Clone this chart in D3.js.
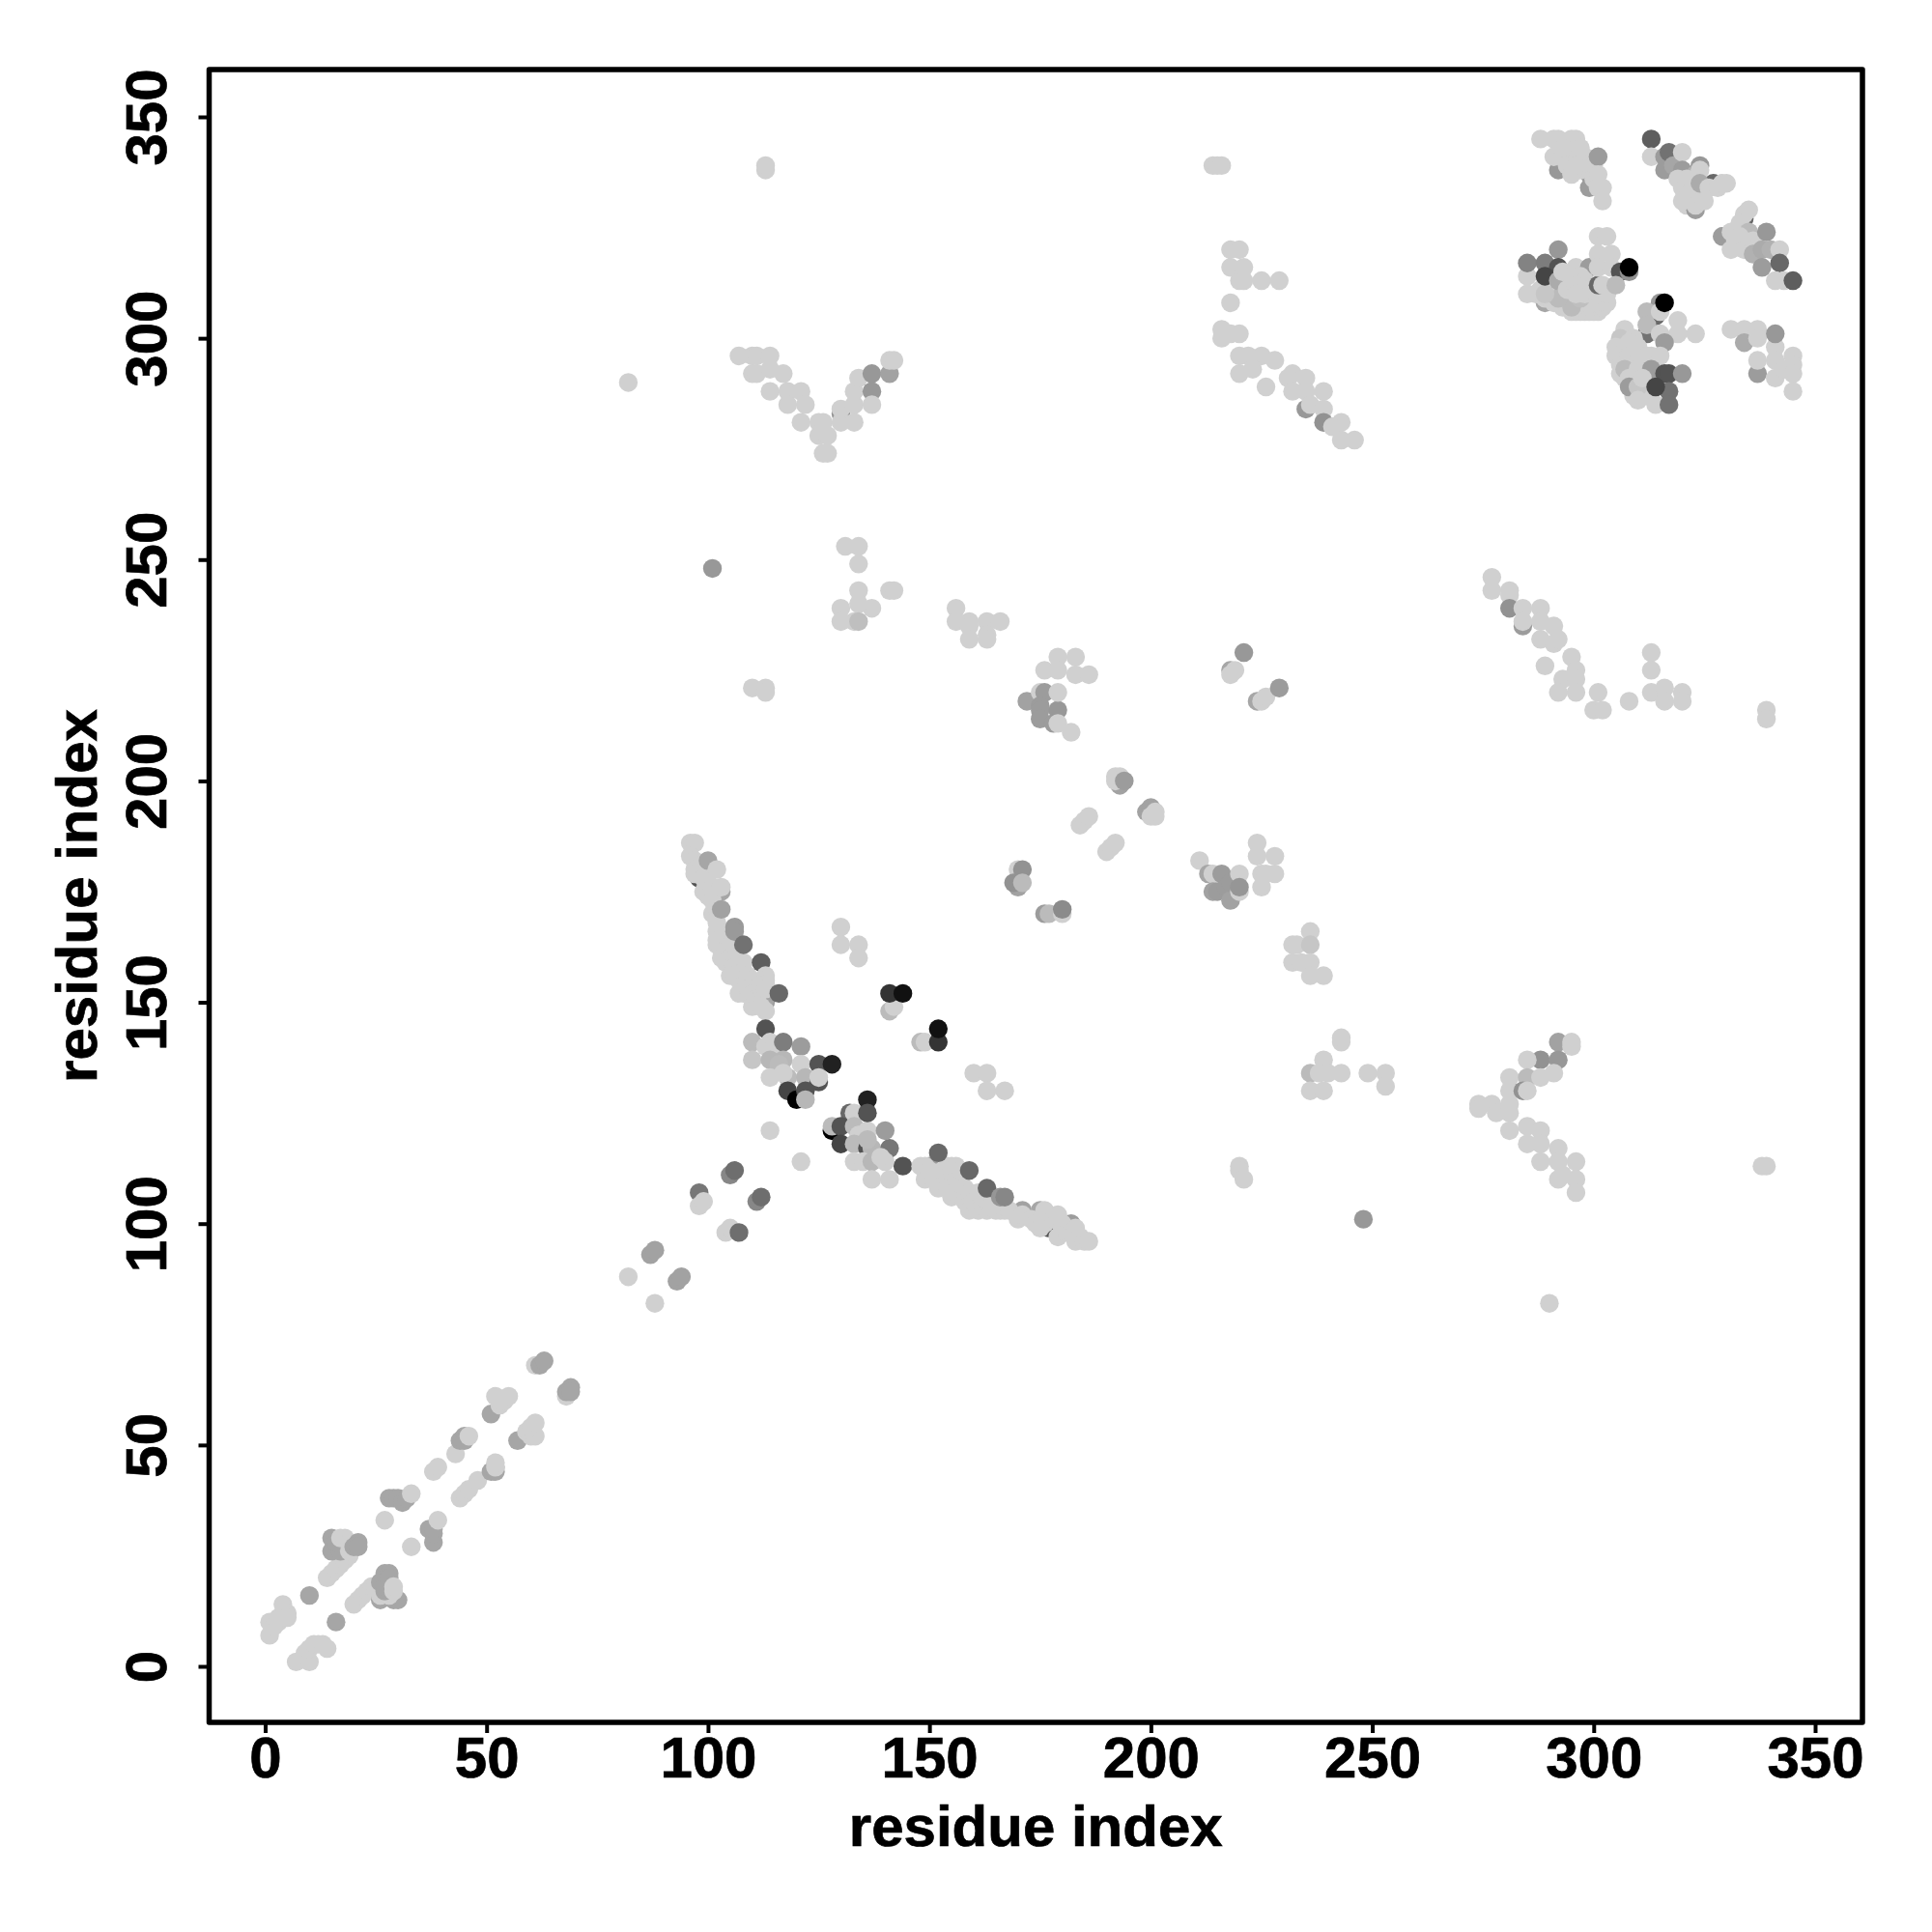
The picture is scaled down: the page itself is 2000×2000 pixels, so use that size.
<!DOCTYPE html>
<html>
<head>
<meta charset="utf-8">
<script src="https://cdn.jsdelivr.net/npm/d3@7/dist/d3.min.js"></script>
<style>
html,body{margin:0;padding:0;background:#fff;}
svg{display:block;}
text{font-family:"Liberation Sans",Arial,sans-serif;font-weight:bold;fill:#000;stroke:#000;stroke-width:0.7px;}
</style>
</head>
<body>
<svg id="chart" width="2000" height="2000"></svg>
<script>
// Each contact: [residue x, residue y, strength read from the shade]. A missing strength means 0.
const diagonalLow = [
[1,7],[1,10],[2,9],[3,10],[3,11],[4,11],[4,12],[4,14],[5,12],[5,11],
[7,1],[9,3],[10,1],[10,4],[11,5],[12,5],[13,5],[14,4],
[10,16,.2],[16,10,.2],
[14,20],[15,21],[16,22],[17,23],[18,24],[19,25],
[15,29,.2],[15,26,.2],[17,26,.2],[16,28,.2],[17,29],[18,29],[19,26],[19,28],[21,28,.2],[20,27,.2],[21,27,.2],
[20,14],[21,15],[22,16],[23,17],[24,18],[25,18],
[26,15,.2],[27,16,.2],[29,15,.2],[30,15,.2],[26,16],[28,16],[27,17,.2],[26,19,.2],[27,18,.2],[27,21,.2],[28,21,.2],[28,20,.2],[29,17],[29,18],
[27,33],[33,27],
[28,38,.2],[29,38,.2],[30,38,.2],[31,37,.2],[32,38,.2],[33,39],
[38,28,.2],[38,30,.2],[37,31,.2],[38,31,.2],[39,33],
[38,44],[39,45],[43,48],[44,51,.2],[45,52,.2],[45,51,.2],[46,52],
[44,38],[45,39],[46,40],[48,42],[51,44,.2],[52,45,.2],[52,44,.2],[52,45],[52,46],
[51,57,.2],[52,61],[53,59],[54,60],[53,60],[55,61],
[57,51,.2],[59,53],[60,52],[61,52],[60,54],[61,55],
[61,68],[62,68,.2],[63,69,.2],
[68,61],[68,62,.2],[69,63,.2],[69,62,.2]
];
const diagonalMid = [
[82,88],[88,82],[87,93,.22],[88,94,.22],[93,87,.22],[94,88,.22],
[98,107,.43],[98,104],[99,105],
[105,111,.35],[106,112,.47],
[104,98],[105,99],[107,98,.47],
[111,105,.35],[112,106,.47],
[121,114],[114,121]
];
const arcUpper = [
[98,178,.6],[103,175,.2],[113,150,.25],[113,151,.2],
[96,186],[97,186],[96,183],[97,182],[98,181],[97,180],[97,179],[99,178],[100,177],[99,175],[100,174],[101,173],[101,170],[102,171],[102,168],[102,166],[102,164],[102,163],[103,162],[104,165],[105,163],[103,160],[104,159],[105,160],[106,160],[106,158],[105,156],[106,156],[107,155],[108,159],[108,157],[108,154],[109,156],[110,155],[107,152],[108,152],[109,153],[110,152],[110,149],[111,151],[112,153],[113,148],[112,149],
[100,182,.2],[102,180],[103,176],[103,171,.22],[106,167,.26],[106,166,.26],[108,163,.45],[112,159,.55],[113,156],[113,155],[113,154],[113,153],[116,152,.5]
];
const crossCentre = [
[113,144,.6],[110,141,.1],[110,137,.05],[114,141],[113,140],[115,140],[117,141,.4],[121,140,.25],[114,137,.12],[117,137,.12],[116,136,.1],[121,136],[125,136,.6],[128,136,.84],
[114,133],[118,133,.1],[117,134],[122,133,.12],[125,132,.6],[125,133],[118,130,.67],[120,128,1],[122,130,.6],[122,128,.12],
[132,125,.5],[133,125],[128,121,1],[128,122,.1],[130,122,.6],[130,118,.67],[133,122,.1],[134,120],[136,121],[140,121,.25],[133,118,.1],[136,117,.6],[137,117,.12],[136,119,.1],[141,117,.43],[133,114],[135,114],[137,114,.12],[140,114],[139,115],[144,113,.6],[137,110],[141,110],
[136,128,.84],[136,125,.6]
];
const arcLower = [
[150,113,.25],[155,110,.2],[171,103,.22],[175,103,.2],[177,99,.6],[182,100,.25],
[148,113],[149,113],[149,110],[150,112],[151,110],[152,108],[152,110],[153,112],[154,113],[155,113],[156,113],[154,108],[155,106],[156,107],[156,110],[157,109],[157,112],[158,108],[158,105],[159,107],[159,104],[159,103],[160,105],[161,103],[161,107],[162,104],[163,103],[163,105],[164,104],[165,103],[166,103],[167,103],[168,103],[170,101],[171,102],[173,101],[174,100],[175,99],[176,100],[176,103],[177,102],[178,101],[179,102],[179,97],[180,99],[180,100],[181,98],[182,98],[183,99],[183,96],[184,97],[185,96],[186,96],
[152,116,.5],[159,112,.5],[163,108,.5],[166,106,.28],[167,106,.35]
];
const offDiagonalMid = [
[141,148,.1],[142,149],[141,152,.75],[144,152,.92],[148,141,.1],[149,141],[152,141,.75],[152,144,.92],
[130,167],[130,163],[134,163],[134,160],
[160,134],[163,134],[163,130],[167,130],
[170,180],[171,180,.3],[170,176,.22],[169,177,.3],[171,177,.1],
[176,170,.25],[177,170,.1],[180,170],[180,171,.33],
[184,190],[185,191],[186,192],[190,184],[191,185],[192,186],
[192,201],[193,201],[193,199,.22],[192,200],[194,200,.25],
[199,193,.22],[200,194,.22],[200,192],[201,192],[201,193],
[211,182],[213,179,.2],[214,179],[216,179,.25],[214,175,.22],[215,175,.25],[217,176,.25],[218,173,.22],[218,177,.25],[220,179],[220,175],[220,176,.28],
[224,186],[224,183],[228,183],[225,179],[228,179],[226,179],[225,176],
[232,163],[233,163],[236,166],[236,163,.05],[232,159],[234,159],[236,159],[236,156],[239,156],
[239,137],[236,134,.1],[238,134],[240,134],[243,134],[236,130],[239,130],[243,141],[243,142],[249,134],[253,134],[253,131],
[82,290],[101,248,.27],[248,101,.27],[290,82]
];
const upperMid = [
[107,296],[110,296],[111,296],[114,296],[110,292],[111,292],[114,293],[117,292],[114,288],[118,288],[121,288],[118,285],[122,285],[121,281],[125,281],[126,281],[125,278],[127,278],[126,274],[127,274],
[130,283,.3],[130,281],[133,281],[130,284],[133,285],[133,288],[134,291],[137,292,.27],[137,288,.27],[137,285],[141,292,.22],[141,295],[142,295],
[131,253],[134,253],[134,249],[134,243],[130,239],[137,239],[134,240],[130,236],[133,236],[134,236,.08],[141,243],[142,243],
[156,239],[156,236],[159,236],[159,235],[159,232],[163,236],[163,233],[163,232],[166,236],
[110,221],[113,221],[113,220],[113,338],[113,339],
[179,228],[183,228],[176,225],[179,225],[183,224],[186,224],
[172,218,.22],[175,220],[176,220,.25],[175,217,.25],[175,216,.25],[175,214,.25],[178,213,.25],[179,216,.27],[179,213],[179,220],[182,211],
[214,339],[215,339],[216,339],
[218,225,.2],[219,225],[218,224],[221,229,.27],[224,218,.2],[225,218],[226,219],[229,221,.25]
];
const upperRightBand = [
[218,320],[220,320],[218,316],[221,316],[220,313],[221,313],[225,313],[229,313],[218,308],[216,302],[216,300],[218,301],[220,301],
[220,296],[222,296],[225,296],[228,295],[223,293],[220,292],[226,289],[232,292],[231,291],[235,291],[232,288],[235,288],[239,288],[235,284,.27],[236,285],[239,284],[239,281,.3],[243,281],[241,280],[243,277],[246,277],
[277,246],[277,243],[281,243],[281,242],[281,239,.3],[284,239],[288,239],[284,235,.25],[284,236],[288,236],[291,235],[288,232],[291,231],[292,232],[295,228],[289,226],[296,225],[293,223],[296,223],[292,220],[296,220],[301,220],[300,216],[302,216],[308,218],
[313,229],[313,225],[313,220],[316,221],[316,218],[320,220],[320,218],[339,216],[339,214],
[292,141,.22],[295,141],[295,140],[288,137,.3],[292,137,.27],[285,137],[281,133],[285,133,.1],[288,133],[291,134],[281,130],[284,130,.3],[285,130],[274,127],[274,126],[277,127],[278,125],[281,127],[281,125],
[281,121],[285,122],[288,121],[285,118],[288,118],[292,117],[288,114],[292,114],[296,114],[292,110],[296,110],[296,107],[293,111],
[220,113],[220,112],[221,110],[338,113],[339,113]
];
const cornerTop = [
[292,338,.27],[299,337,.25],[299,334,.25],
[288,345],[292,345],[291,345],[296,345],[295,345],[291,341],[293,341],[296,341],[298,341],[293,343],[297,343],[294,339],[297,338],[298,339],[295,337],[296,339],[300,339],[300,336],[301,341,.25],[301,337],[302,334],[301,334],[302,331],
[313,345,.55],[313,341],[316,341,.25],[316,338,.25],[317,342,.45],[318,339,.2],[320,342],[320,338,.25],[323,337,.15],[324,339,.27],[324,338],[320,334],[319,336],[321,336],[322,333],[322,331],[321,330],[323,329,.25],[323,330],[320,331],[325,331],[327,335,.5],[324,335,.18],[326,334],[328,334],[329,335],[330,335],
[334,327,.5],[329,323,.25],[334,328],[335,329],[333,326],[335,324,.1],[331,324],[332,322],[333,323],[331,320],[334,320],[336,322],[336,320],[339,324,.27],[336,319,.15],[338,320,.18],[338,316,.25],[340,320,.15],[342,320],[342,317,.5],[341,313],[343,313],[345,313,.55]
];
const cornerMiddle = [
[289,308,.2],[285,314],[285,310],[287,310],[288,311],[291,312],[293,310],[289,309],[290,309],[291,308],[293,308],[293,307],[294,307],[295,306],[296,306],[297,306],[298,306],[299,306],[300,306],[301,306],[296,307],[299,307],[302,307],[302,308],[300,308],[298,308],[303,308],[303,310],[295,307,.1],[292,309,.1],[289,310,.05],[297,309,.08],
[285,317,.37],[289,317,.4],[292,320,.27],[292,316,.6],[289,314,.67],[292,313,.18],[296,316],[299,316,.25],[293,315],[295,314],[297,314],[298,313],[294,311],[296,311],[298,310],[299,311],[296,312],[296,310],
[301,323],[303,323],[301,319],[304,319],[301,312,.5],[302,312],[301,316],[304,316],[306,315,.6],[305,312,.1],[308,315,.3],[308,316,1],
[312,301,.45],[314,305,.5],[315,308,.27],[312,306,.1],[312,303,.1],[315,306],[319,304],[323,301],[319,301],[315,301],[316,299,.25],[316,308,1],
[307,302],[306,300,.05],[306,296],[307,298],[309,297],[309,300],[305,298],[305,296],[306,294],[306,292],[307,295],[307,291],[308,299],[308,296],[308,293],[309,292],[309,295],[310,298],[310,295],[310,291],[311,288],[311,294],[312,292],[312,290],[312,287],[313,296],[313,291],[309,287],[312,296],[315,296],[307,293,.1],[308,291],[310,293],[313,293,.25],[308,289,.25],[310,289,.05],[310,286],[311,291],[314,285],
[316,292,.6],[317,292,.6],[320,292,.27],[317,288,.45],[314,289,.67],[317,285,.45],
[331,302],[334,302],[337,302],[334,299,.18],[337,300],[341,298],[341,301,.27],[337,292,.25],[337,295],[341,295],[345,296],[345,294],[341,291],[343,293],[345,292],[345,288]
];

const contacts = [].concat(diagonalLow, diagonalMid, arcUpper, crossCentre, arcLower, offDiagonalMid, upperMid, upperRightBand, cornerTop, cornerMiddle);
const xTicks = [0,50,100,150,200,250,300,350];
const yTicks = [0,50,100,150,200,250,300,350];
const axisTitle = "residue index";

const boxLeft = 216.5, boxRight = 1928, boxTop = 72, boxBottom = 1783;
const svg = d3.select("#chart");
const x = d3.scaleLinear().domain([0,350]).range([274.5,1879]);
const y = d3.scaleLinear().domain([0,350]).range([1725,121]);
const shade = d3.scaleLinear().domain([0,1]).range(["#d0d0d0","#000000"]);

svg.append("g").selectAll("circle").data(contacts).join("circle")
  .attr("cx", d => x(d[0])).attr("cy", d => y(d[1])).attr("r", 9.7)
  .attr("fill", d => shade(d[2] || 0));

svg.append("rect")
  .attr("x", boxLeft).attr("y", boxTop)
  .attr("width", boxRight - boxLeft).attr("height", boxBottom - boxTop)
  .attr("fill", "none").attr("stroke", "#000").attr("stroke-width", 5.5).attr("stroke-linejoin","round");

const gx = svg.append("g").attr("transform", `translate(0,${boxBottom})`)
  .call(d3.axisBottom(x).tickValues(xTicks).tickSize(11).tickPadding(0).tickFormat(d3.format("d")));
gx.select(".domain").remove();
gx.selectAll("line").attr("stroke","#000").attr("stroke-width",4);
gx.selectAll("text").attr("y",null).attr("dy",null).attr("transform",null)
  .attr("y",57).attr("font-size",60).attr("text-anchor","middle")
  .style("font-family",'"Liberation Sans"').style("font-weight","bold");

const gy = svg.append("g").attr("transform", `translate(${boxLeft},0)`)
  .call(d3.axisLeft(y).tickValues(yTicks).tickSize(11).tickPadding(0).tickFormat(d3.format("d")));
gy.select(".domain").remove();
gy.selectAll("line").attr("stroke","#000").attr("stroke-width",4);
gy.selectAll("text").attr("x",0).attr("dy",null).attr("y",0)
  .attr("transform","translate(-44.5,0) rotate(-90)")
  .attr("text-anchor","middle").attr("font-size",60)
  .style("font-family",'"Liberation Sans"').style("font-weight","bold");

svg.append("text").attr("x",(boxLeft+boxRight)/2).attr("y",1911)
  .attr("text-anchor","middle").attr("font-size",60).text(axisTitle);
svg.append("text").attr("transform",`translate(99.5,${(boxTop+boxBottom)/2}) rotate(-90)`)
  .attr("text-anchor","middle").attr("font-size",60).text(axisTitle);
</script>
</body>
</html>
